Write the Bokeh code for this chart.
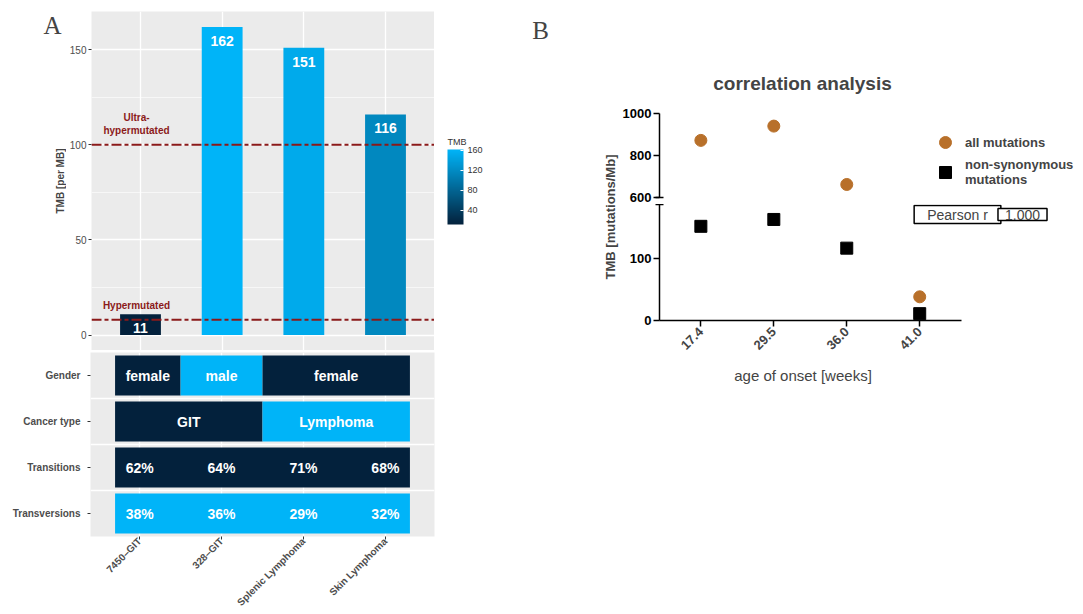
import numpy as np
from math import pi
from bokeh.plotting import figure
from bokeh.models import (Range1d, FixedTicker, LinearColorMapper, ColorBar, Label,
                          Legend, LegendItem, ColumnDataSource, Span)
from bokeh.layouts import row, column
from bokeh.embed import file_html
from bokeh.resources import INLINE
from bokeh.core.properties import value

# ---------------- Panel A data ----------------
samples = ["7450\u2013GIT", "328\u2013GIT", "Splenic Lymphoma", "Skin Lymphoma"]
tmb = [11, 162, 151, 116]
gender = ["female", "male", "female", "female"]
cancer_type = ["GIT", "GIT", "Lymphoma", "Lymphoma"]
transitions = [62, 64, 71, 68]
transversions = [38, 36, 29, 32]
thresholds = [8, 100]
threshold_labels = ["Hypermutated", "Ultra-\nhypermutated"]
tmb_ticks = [0, 50, 100, 150]
colorbar_ticks = [40, 80, 120, 160]
row_labels = ["Gender", "Cancer type", "Transitions", "Transversions"]

# ---------------- Panel B data ----------------
ages = ["17.4", "29.5", "36.0", "41.0"]
all_mut = [872, 940, 662, 38]
nonsyn = [151, 162, 116, 11]
upper_ticks = [600, 800, 1000]
lower_ticks = [0, 100]
LOWER_TOP = 186          # top of the lower (broken) axis segment

# ---------------- styles ----------------
FONT = "Liberation Sans"
SERIF = "Liberation Serif"
DARK = "#03213C"
BRIGHT = "#00B4F8"
RED = "#8B1A1A"
GRAY_TXT = "#4D4D4D"
PANEL_BG = "#EBEBEB"
BROWN = "#B8702A"
COMMON = dict(output_backend="svg", toolbar_location=None)


def _rgb(h):
    return tuple(int(h[i:i + 2], 16) for i in (1, 3, 5))


lo, hi = _rgb(DARK), _rgb(BRIGHT)
palette = ["#%02x%02x%02x" % tuple(int(round(a + (b - a) * t)) for a, b in zip(lo, hi))
           for t in np.linspace(0, 1, 256)]
mapper = LinearColorMapper(palette=palette, low=min(tmb), high=max(tmb))

n = len(samples)
pos = list(range(1, n + 1))
x_rng = Range1d(0.4, n + 0.6)
ypad = 0.05 * max(tmb)


def blank(width, height):
    f = figure(width=width, height=height, x_range=Range1d(0, 1), y_range=Range1d(0, 1),
               x_axis_location=None, y_axis_location=None, min_border=0,
               outline_line_color=None, **COMMON)
    f.grid.visible = False
    return f


# ---------------- A: left strip (panel letter + y title) ----------------
pAL = blank(66, 350)
pAL.add_layout(Label(x=52, y=325, x_units="screen", y_units="screen", text="A",
                     text_font=SERIF, text_font_size="25px", text_align="center",
                     text_baseline="middle"))
pAL.add_layout(Label(x=60, y=169.5, x_units="screen", y_units="screen", text="TMB [per MB]",
                     angle=pi / 2, text_font=FONT, text_font_style="bold",
                     text_font_size="10px", text_align="center", text_baseline="middle"))

# ---------------- A1: TMB bars ----------------
pA1 = figure(width=368, height=350, x_range=x_rng, y_range=Range1d(-ypad, max(tmb) + ypad),
             x_axis_location=None, min_border_left=24, min_border_right=0,
             min_border_top=11, min_border_bottom=0,
             background_fill_color=PANEL_BG, outline_line_color=None, **COMMON)
pA1.xgrid.ticker = FixedTicker(ticks=pos)
minor_y = [(a + b) / 2 for a, b in zip(tmb_ticks[:-1], tmb_ticks[1:])]
pA1.ygrid.ticker = FixedTicker(ticks=tmb_ticks, minor_ticks=minor_y)
pA1.grid.grid_line_color = "white"
pA1.grid.grid_line_width = 1.3
pA1.ygrid.minor_grid_line_color = "white"
pA1.ygrid.minor_grid_line_width = 0.6

ya = pA1.yaxis[0]
ya.ticker = FixedTicker(ticks=tmb_ticks)
ya.axis_line_color = None
ya.major_tick_line_color = "#333333"
ya.major_tick_out = 3
ya.major_tick_in = 0
ya.minor_tick_line_color = None
ya.major_label_text_color = GRAY_TXT
ya.major_label_text_font = FONT
ya.major_label_text_font_size = "10px"
ya.major_label_standoff = 2

srcA = ColumnDataSource(dict(x=pos, tmb=tmb, label=[str(v) for v in tmb]))
pA1.vbar(x="x", top="tmb", width=0.5, source=srcA,
         fill_color={"field": "tmb", "transform": mapper}, line_color=None)
pA1.text(x="x", y="tmb", text="label", source=srcA, text_color="white",
         text_font=value(FONT), text_font_style="bold", text_font_size="14px",
         text_align="center", text_baseline="middle", y_offset=14)

for t in thresholds:
    pA1.add_layout(Span(location=t, dimension="width", line_color=RED, line_width=2,
                        line_dash="10 3 4 3"))
pA1.text(x=[pos[0]] * len(thresholds), y=thresholds, text=threshold_labels,
         text_color=RED, text_font=value(FONT), text_font_style="bold",
         text_font_size="10px", text_align="center", text_baseline="bottom",
         y_offset=-9, x_offset=-4)

# ---------------- A: colour bar strip ----------------
pCB = blank(66, 350)
cb = ColorBar(color_mapper=mapper, width=16, height=75, location=(13, 126),
              orientation="vertical", padding=0, margin=0,
              ticker=FixedTicker(ticks=colorbar_ticks),
              major_label_text_font=FONT, major_label_text_font_size="9px",
              major_label_text_color="#333333", major_tick_line_color="white",
              major_tick_in=3, major_tick_out=0, label_standoff=4, bar_line_color=None,
              background_fill_color=None, border_line_color=None)
pCB.add_layout(cb)
pCB.add_layout(Label(x=13, y=209, x_units="screen", y_units="screen", text="TMB",
                     text_font=FONT, text_font_size="9px", text_align="left",
                     text_baseline="middle", text_color="#333333"))

# ---------------- A2: annotation tiles ----------------
nrows = len(row_labels)
row_y = list(range(nrows, 0, -1))  # Gender on top
pA2 = figure(width=500, height=264, x_range=x_rng, y_range=Range1d(0.5, nrows + 0.5),
             min_border_left=90, min_border_right=66, min_border_top=2, min_border_bottom=74,
             background_fill_color=PANEL_BG, outline_line_color=None, **COMMON)
pA2.xgrid.ticker = FixedTicker(ticks=pos)
pA2.ygrid.ticker = FixedTicker(ticks=[y + 0.5 for y in row_y[1:]])
pA2.grid.grid_line_color = "white"
pA2.grid.grid_line_width = 1.3

EDGE = 0.3
HALF_H = 0.435
color_of = {"female": DARK, "male": BRIGHT, "GIT": DARK, "Lymphoma": BRIGHT}


def runs(vals):
    out, start = [], 0
    for i in range(1, len(vals) + 1):
        if i == len(vals) or vals[i] != vals[start]:
            out.append((vals[start], start + 1, i))
            start = i
    return out


def edges(first, last):
    left = first - EDGE if first == 1 else first - 0.5
    right = last + EDGE if last == n else last + 0.5
    return left, right


tiles = dict(left=[], right=[], bottom=[], top=[], color=[])
labels = dict(x=[], y=[], text=[])
for yv, vals in ((row_y[0], gender), (row_y[1], cancer_type)):
    for lab, f, l in runs(vals):
        le, ri = edges(f, l)
        tiles["left"].append(le); tiles["right"].append(ri)
        tiles["bottom"].append(yv - HALF_H); tiles["top"].append(yv + HALF_H)
        tiles["color"].append(color_of[lab])
        labels["x"].append((le + ri) / 2); labels["y"].append(yv); labels["text"].append(lab)
for yv, vals, col in ((row_y[2], transitions, DARK), (row_y[3], transversions, BRIGHT)):
    le, ri = edges(1, n)
    tiles["left"].append(le); tiles["right"].append(ri)
    tiles["bottom"].append(yv - HALF_H); tiles["top"].append(yv + HALF_H)
    tiles["color"].append(col)
    for p_, v in zip(pos, vals):
        labels["x"].append(p_); labels["y"].append(yv); labels["text"].append(f"{v}%")

pA2.quad(left="left", right="right", bottom="bottom", top="top", fill_color="color",
         line_color=None, source=ColumnDataSource(tiles))
pA2.text(x="x", y="y", text="text", source=ColumnDataSource(labels), text_color="white",
         text_font=value(FONT), text_font_style="bold", text_font_size="14px",
         text_align="center", text_baseline="middle")

for ax, ticks, labs in ((pA2.yaxis[0], row_y, row_labels), (pA2.xaxis[0], pos, samples)):
    ax.ticker = FixedTicker(ticks=ticks)
    ax.major_label_overrides = {t: s for t, s in zip(ticks, labs)}
    ax.axis_line_color = None
    ax.major_tick_line_color = "#333333"
    ax.major_tick_out = 3
    ax.major_tick_in = 0
    ax.minor_tick_line_color = None
    ax.major_label_text_color = GRAY_TXT
    ax.major_label_text_font = FONT
    ax.major_label_text_font_style = "bold"
    ax.major_label_text_font_size = "10px"
pA2.yaxis[0].major_label_standoff = 7
pA2.xaxis[0].major_label_standoff = 0
pA2.xaxis[0].major_label_orientation = pi / 4

# ---------------- B: left strip (panel letter + y title) ----------------
pL = blank(119, 330)
pL.add_layout(Label(x=40, y=300, x_units="screen", y_units="screen", text="B",
                    text_font=SERIF, text_font_size="25px", text_align="center",
                    text_baseline="middle"))
pL.add_layout(Label(x=110, y=113.5, x_units="screen", y_units="screen",
                    text="TMB [mutations/Mb]", angle=pi / 2, text_font=FONT,
                    text_font_style="bold", text_font_size="13px", text_align="center",
                    text_baseline="middle"))

# ---------------- B: broken-axis scatter ----------------
B_FRAME_W = 426          # frame spans to the right edge (legend lives inside)
B_AXIS_W = 303           # drawn length of the x axis
B_PAD = 0.567            # category padding at both ends of the x axis
unit_px = B_AXIS_W / (n - 1 + 2 * B_PAD)
bx_start = 1 - B_PAD
xrB = Range1d(bx_start, bx_start + B_FRAME_W / unit_px)
x_bounds = (bx_start, n + B_PAD)

# pixel layout of the broken y axis (rows measured from the top of the page)
Y_TOP_TICK, Y_BREAK_UP, Y_SPLIT, Y_ZERO = 113, 197, 204, 320
up_lo, up_hi = min(upper_ticks), max(upper_ticks)
up_scale = (Y_BREAK_UP - Y_TOP_TICK) / (up_hi - up_lo)
yrU = Range1d(up_lo - (Y_SPLIT - Y_BREAK_UP) / up_scale, up_lo + Y_BREAK_UP / up_scale)
yrL = Range1d(0, LOWER_TOP)


def style_b_axis(ax, ticks, minor, bounds):
    ax.ticker = FixedTicker(ticks=ticks, minor_ticks=minor)
    ax.bounds = bounds
    ax.axis_line_width = 1.5
    ax.axis_line_color = "black"
    ax.major_tick_line_width = 1.5
    ax.major_tick_line_color = "black"
    ax.major_tick_out = 6
    ax.major_tick_in = 0
    ax.minor_tick_line_width = 1.5
    ax.minor_tick_line_color = "black"
    ax.minor_tick_in = 4
    ax.minor_tick_out = 4
    ax.major_label_text_font = FONT
    ax.major_label_text_font_style = "bold"
    ax.major_label_text_font_size = "13px"
    ax.major_label_text_color = "black"
    ax.major_label_standoff = 2


pBU = figure(width=464, height=Y_SPLIT, x_range=xrB, y_range=yrU, x_axis_location=None,
             min_border_left=38, min_border_right=0, min_border_top=0, min_border_bottom=0,
             outline_line_color=None, **COMMON)
pBU.grid.visible = False
style_b_axis(pBU.yaxis[0], upper_ticks, [up_lo], (up_lo, up_hi))

B_BOTTOM = 42
pBL = figure(width=464, height=(Y_ZERO - Y_SPLIT) + B_BOTTOM, x_range=xrB, y_range=yrL,
             min_border_left=38, min_border_right=0, min_border_top=0,
             min_border_bottom=B_BOTTOM, outline_line_color=None, **COMMON)
pBL.grid.visible = False
style_b_axis(pBL.yaxis[0], lower_ticks, [LOWER_TOP], (0, LOWER_TOP))
xb = pBL.xaxis[0]
xb.ticker = FixedTicker(ticks=pos)
xb.major_label_overrides = {p_: a for p_, a in zip(pos, ages)}
xb.bounds = x_bounds
xb.axis_line_width = 1.5
xb.major_tick_line_width = 1.5
xb.major_tick_out = 6
xb.major_tick_in = 0
xb.minor_tick_line_color = None
xb.major_label_text_font = FONT
xb.major_label_text_font_style = "bold"
xb.major_label_text_font_size = "13px"
xb.major_label_orientation = pi / 4
xb.major_label_standoff = 3

# x-axis title, centred under the drawn axis (this strip's frame is aligned with the plot frames)
pBX = blank(464, 30)
pBX.add_layout(Label(x=B_AXIS_W / 2 - 8, y=17, x_units="screen", y_units="screen",
                     text="age of onset [weeks]", text_font=FONT, text_font_size="15px",
                     text_align="center", text_baseline="middle"))

rend = {}
for p_ in (pBU, pBL):
    r1 = p_.scatter(x=pos, y=all_mut, marker="circle", size=12, fill_color=BROWN, line_color=BROWN)
    r2 = p_.scatter(x=pos, y=nonsyn, marker="square", size=12, fill_color="black", line_color="black")
    rend[p_] = (r1, r2)

r1, r2 = rend[pBU]
legend = Legend(items=[LegendItem(label="all mutations", renderers=[r1]),
                       LegendItem(label="non-synonymous\nmutations", renderers=[r2])],
                location=(271, 17), padding=0, margin=0, spacing=0, glyph_width=30,
                glyph_height=30, label_standoff=5, label_text_font=FONT,
                label_text_font_style="bold", label_text_font_size="13px",
                border_line_color=None, background_fill_alpha=0)
pBU.add_layout(legend)

pBU.add_layout(Label(x=143, y=Y_SPLIT - 83, x_units="screen", y_units="screen",
                     text="correlation analysis", text_font=FONT, text_font_style="bold",
                     text_font_size="19px", text_align="center", text_baseline="middle"))

r_val = np.corrcoef(all_mut, nonsyn)[0, 1]
for txt, cx, padx in (("Pearson r", 298, 13), (f"{r_val:.3f}", 363, 7)):
    pBL.add_layout(Label(x=cx, y=106, x_units="screen", y_units="screen", text=txt,
                         text_font=FONT, text_font_size="14px", text_align="center",
                         text_baseline="middle", border_line_color="black",
                         border_line_width=1.5, background_fill_color="white",
                         padding=(padx, 1)))

layout = row(column(row(pAL, pA1, pCB), pA2), pL, column(pBU, pBL, pBX))
open("out.html", "w").write(file_html(layout, INLINE))
